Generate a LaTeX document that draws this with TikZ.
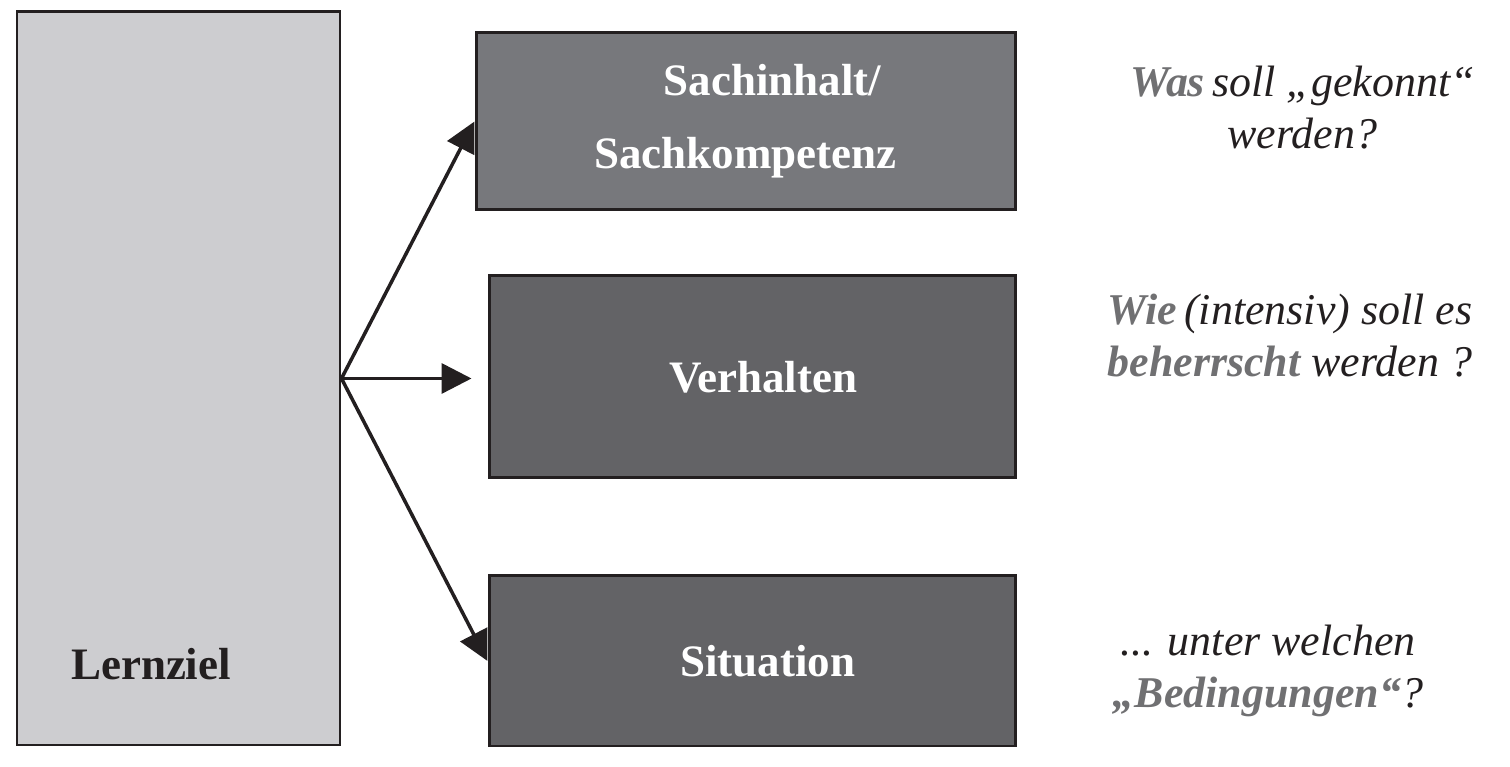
\documentclass[tikz,border=0pt]{standalone}
\usepackage{fontspec}
\setmainfont{Liberation Serif}
\usetikzlibrary{arrows.meta,backgrounds}

\definecolor{rahmen}{HTML}{231F20}
\definecolor{zielgrau}{HTML}{CDCDD0}
\definecolor{sachgrau}{HTML}{77787C}
\definecolor{kastengrau}{HTML}{636366}
\definecolor{fragegrau}{HTML}{707072}
\newcommand{\betont}{\bfseries\color{fragegrau}}

\begin{document}
\begin{tikzpicture}[
  kasten/.style={draw=rahmen,line width=1.7pt,inner sep=0pt,minimum width=10.52cm,
    text=white,font=\fontsize{25.6}{41.4}\selectfont\bfseries},
  pfeil/.style={draw=rahmen,line width=2pt,-{Triangle[length=0.6cm,width=0.6cm]}},
  frage/.style={align=center,text=rahmen,font=\fontsize{25}{29.5}\selectfont\itshape}
]
\useasboundingbox (0,0) rectangle (30.2,15.34);

% linke Spalte
\node[kasten,fill=zielgrau,minimum width=6.46cm,minimum height=14.66cm] (ziel) at (3.57,7.77) {};
\node[anchor=base,text=rahmen,font=\fontsize{25.6}{30}\selectfont\bfseries] (zieltext) at (3.02,1.74) {Lernziel};

% mittlere Spalte
\node[kasten,fill=sachgrau,minimum width=10.78cm,minimum height=3.54cm,align=center] (sach) at (14.91,12.91) {\hspace*{1.2em}Sachinhalt/\\Sachkompetenz};
\node[kasten,fill=kastengrau,minimum height=4.04cm] (verh) at (15.04,7.80) {\hspace*{0.5em}Verhalten};
\node[kasten,fill=kastengrau,minimum height=3.4cm] (sit) at (15.04,2.12) {\hspace*{0.7em}Situation};

\begin{scope}[on background layer]
\draw[pfeil] (ziel.east) -- (sach.west);
\draw[pfeil] (ziel.east) -- ([xshift=-0.32cm]ziel.east -| verh.west);
\draw[pfeil] (ziel.east) -- (sit.west);
\end{scope}

% Fragen rechts
\node[frage] (was) at (26.05,13.19) {{\betont Was}\,soll „gekonnt“\\werden?};
\node[frage] (wie) at (25.8,8.63) {{\betont Wie}\,(intensiv) soll es\\{\betont beherrscht} werden ?};
\node[frage] (bed) at (25.36,1.92) {... unter welchen\\{\betont „Bedingungen“}?};
\end{tikzpicture}
\end{document}
